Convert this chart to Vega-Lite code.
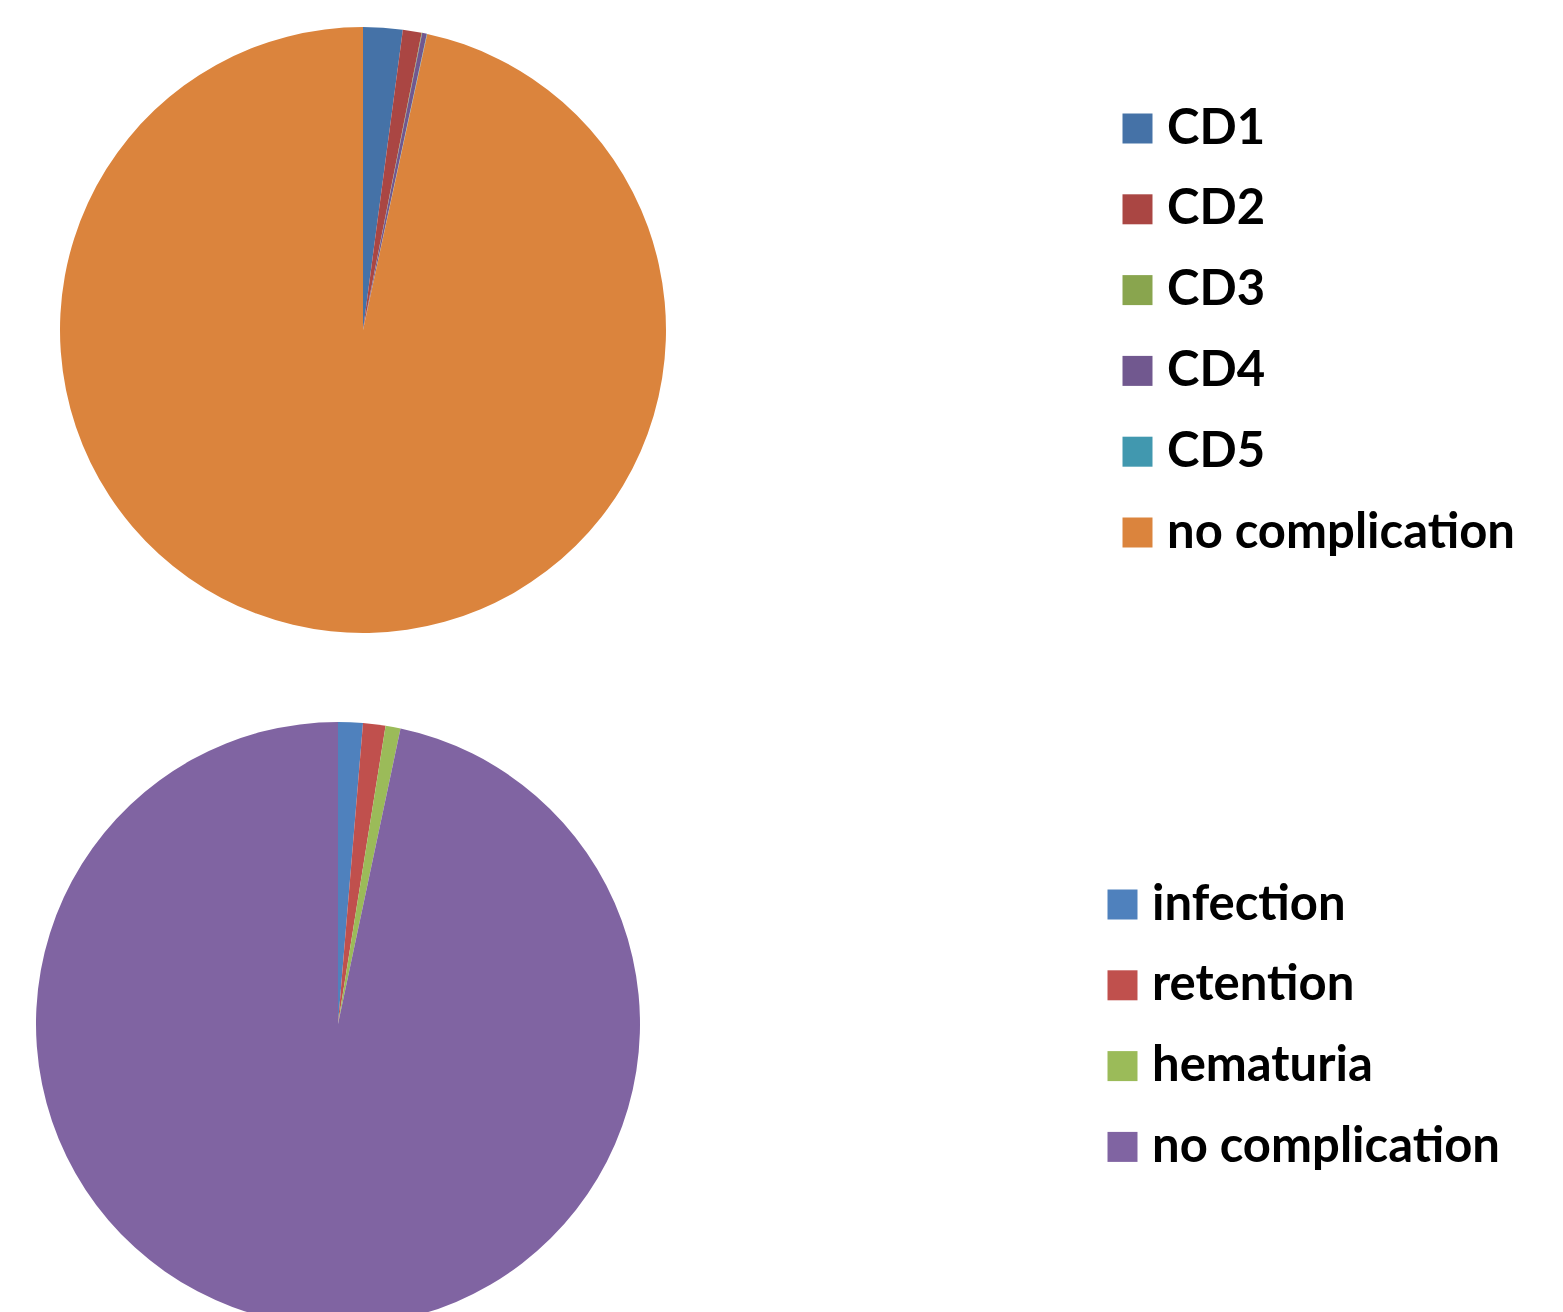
{
  "$schema": "https://vega.github.io/schema/vega-lite/v6.json",
  "padding": 0,
  "spacing": 0,
  "background": "white",
  "config": {"view": {"stroke": null}, "concat": {"spacing": 0}},
  "resolve": {"scale": {"color": "independent", "theta": "independent"}, "legend": {"color": "independent"}},
  "vconcat": [
    {
      "width": 726,
      "height": 660,
      "data": {"values": [
        {"category": "CD1", "k": 1, "pct": 2.1},
        {"category": "CD2", "k": 2, "pct": 1.0},
        {"category": "CD3", "k": 3, "pct": 0.03},
        {"category": "CD4", "k": 4, "pct": 0.25},
        {"category": "CD5", "k": 5, "pct": 0.02},
        {"category": "no complication", "k": 6, "pct": 96.6}
      ]},
      "mark": {"type": "arc", "outerRadius": 303},
      "encoding": {
        "theta": {"field": "pct", "type": "quantitative", "stack": true},
        "order": {"field": "k", "type": "quantitative"},
        "color": {
          "field": "category", "type": "nominal", "sort": null,
          "scale": {"domain": ["CD1", "CD2", "CD3", "CD4", "CD5", "no complication"],
                    "range": ["#4572A7", "#AA4643", "#89A54E", "#71588F", "#4198AF", "#DB843D"]},
          "legend": {
            "title": null, "orient": "none", "legendX": 1113, "legendY": 104,
            "symbolType": "square", "symbolSize": 900, "symbolStrokeWidth": 0, "symbolOpacity": 1,
            "labelFont": "Lato", "labelFontSize": 49, "labelFontWeight": "bold", "labelColor": "black",
            "labelOffset": 5, "rowPadding": 30.8, "labelLimit": 600
          }
        }
      }
    },
    {
      "width": 676,
      "height": 728,
      "data": {"values": [
        {"category": "infection", "k": 1, "pct": 1.32},
        {"category": "retention", "k": 2, "pct": 1.2},
        {"category": "hematuria", "k": 3, "pct": 0.8},
        {"category": "no complication", "k": 4, "pct": 96.68}
      ]},
      "mark": {"type": "arc", "outerRadius": 302},
      "encoding": {
        "theta": {"field": "pct", "type": "quantitative", "stack": true},
        "order": {"field": "k", "type": "quantitative"},
        "color": {
          "field": "category", "type": "nominal", "sort": null,
          "scale": {"domain": ["infection", "retention", "hematuria", "no complication"],
                    "range": ["#4F81BD", "#C0504D", "#9BBB59", "#8064A2"]},
          "legend": {
            "title": null, "orient": "none", "legendX": 1098, "legendY": 220,
            "symbolType": "square", "symbolSize": 900, "symbolStrokeWidth": 0, "symbolOpacity": 1,
            "labelFont": "Lato", "labelFontSize": 49, "labelFontWeight": "bold", "labelColor": "black",
            "labelOffset": 5, "rowPadding": 30.8, "labelLimit": 600
          }
        }
      }
    }
  ]
}
